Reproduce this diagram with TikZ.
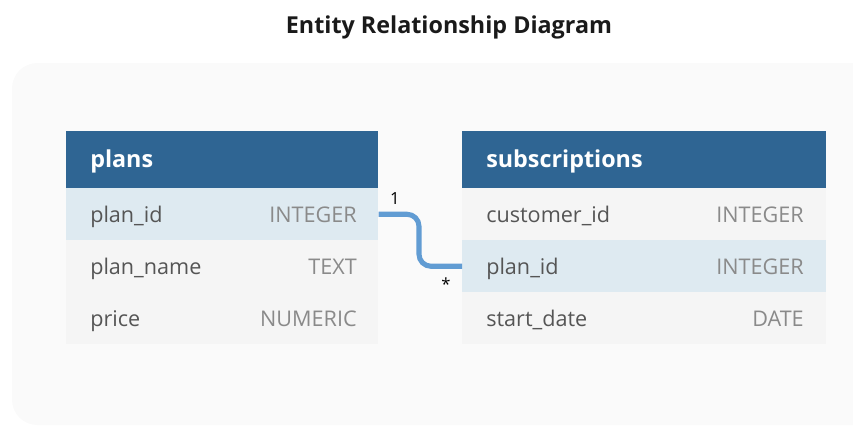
\documentclass[tikz,border=0pt]{standalone}
\usepackage{fontspec}
\setmainfont{Open Sans}
\usetikzlibrary{calc}
\definecolor{panelbg}{HTML}{FAFAFA}
\definecolor{headbg}{HTML}{2F6593}
\definecolor{hlrow}{HTML}{DEEAF1}
\definecolor{plainrow}{HTML}{F5F5F5}
\definecolor{nametxt}{HTML}{555555}
\definecolor{typetxt}{HTML}{8A8A8A}
\definecolor{connblue}{HTML}{619CD3}
\definecolor{titletxt}{HTML}{1A1A1A}
\tikzset{
  header/.style={fill=headbg, draw=none, anchor=north west, minimum height=57*0.75pt, inner sep=0pt},
  rowbox/.style={draw=none, anchor=north west, minimum height=52*0.75pt, inner sep=0pt},
  hl/.style={rowbox, fill=hlrow},
  plain/.style={rowbox, fill=plainrow},
  headtxt/.style={anchor=base west, text=white, font=\bfseries\fontsize{17.5}{20}\selectfont, inner sep=0pt},
  nametx/.style={anchor=base west, text=nametxt, font=\fontsize{16.2}{19}\selectfont, inner sep=0pt},
  typetx/.style={anchor=base east, text=typetxt, font=\fontsize{16.2}{19}\selectfont, inner sep=0pt},
  conn/.style={draw=connblue, line width=3.8pt, rounded corners=9pt},
  card/.style={text=black, font=\fontsize{12.5}{14}\selectfont, inner sep=0pt}
}
\begin{document}
\begin{tikzpicture}[x=0.75pt, y=-0.75pt]
\useasboundingbox (0,0) rectangle (853,430);
\fill[panelbg, rounded corners=19pt] (12,63) rectangle (900,425);
\node[font=\bfseries\fontsize{17.5}{20}\selectfont, text=titletxt, inner sep=0pt, anchor=base] (title) at (449,33) {Entity Relationship Diagram};
% plans table
\node[header, minimum width=312*0.75pt] (ph) at (66,131) {};
\node[hl, minimum width=312*0.75pt] (p1) at (66,188) {};
\node[plain, minimum width=312*0.75pt] (p2) at (66,240) {};
\node[plain, minimum width=312*0.75pt] (p3) at (66,292) {};
\node[headtxt] (pht) at (90,167) {plans};
\node[nametx] (p1n) at (90,222) {plan\_id};
\node[typetx] (p1t) at (357,222) {INTEGER};
\node[nametx] (p2n) at (90,274) {plan\_name};
\node[typetx] (p2t) at (357,274) {TEXT};
\node[nametx] (p3n) at (90,326) {price};
\node[typetx] (p3t) at (357,326) {NUMERIC};
% subscriptions table
\node[header, minimum width=364*0.75pt] (sh) at (462,131) {};
\node[plain, minimum width=364*0.75pt] (s1) at (462,188) {};
\node[hl, minimum width=364*0.75pt] (s2) at (462,240) {};
\node[plain, minimum width=364*0.75pt] (s3) at (462,292) {};
\node[headtxt] (sht) at (486,167) {subscriptions};
\node[nametx] (s1n) at (486,222) {customer\_id};
\node[typetx] (s1t) at (804,222) {INTEGER};
\node[nametx] (s2n) at (486,274) {plan\_id};
\node[typetx] (s2t) at (804,274) {INTEGER};
\node[nametx] (s3n) at (486,326) {start\_date};
\node[typetx] (s3t) at (804,326) {DATE};
% connector
\coordinate (mid) at (419,240);
\draw[conn] (p1.east) -- (p1.east -| mid) -- (s2.west -| mid) -- (s2.west);
\node[card] (one) at (395,199) {1};
\node[card] (many) at (446,284) {*};
\end{tikzpicture}
\end{document}
